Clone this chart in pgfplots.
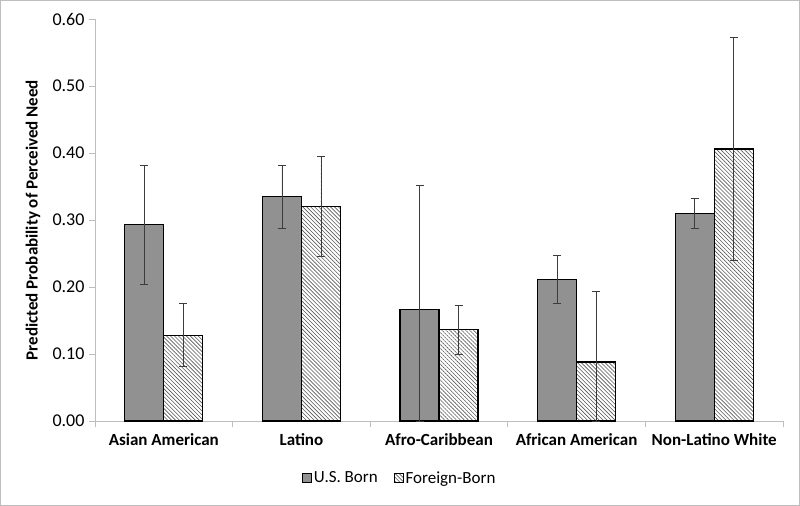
\documentclass[border=0pt]{standalone}
\usepackage{pgfplots}
\pgfplotsset{compat=1.18}
\usepackage{pgfplotstable}
\usepackage{fontspec}
\setmainfont{Carlito}
\usetikzlibrary{patterns.meta,calc}
\definecolor{barg}{RGB}{145,145,145}
\definecolor{axg}{RGB}{190,190,190}
\definecolor{errg}{RGB}{60,60,60}
\pgfplotstableread{
x y ep em
0 0.293 0.089 0.089
1 0.335 0.047 0.048
2 0.167 0.185 0.167
3 0.211 0.036 0.036
4 0.310 0.022 0.022
}\usborn
\pgfplotstableread{
x y ep em
0 0.128 0.047 0.047
1 0.320 0.075 0.075
2 0.136 0.037 0.037
3 0.088 0.105 0.088
4 0.406 0.166 0.166
}\foreign
\begin{document}
\begin{tikzpicture}
\begin{axis}[
  scale only axis, width=688bp, height=402bp,
  ybar=0pt, bar width=39bp,
  xmin=-0.5, xmax=4.5, ymin=0, ymax=0.6,
  ytick={0,0.1,...,0.6},
  xtick={0,1,2,3,4},
  xticklabels={Asian American, Latino, Afro-Caribbean, African American, Non-Latino White},
  minor xtick={-0.5,0.5,1.5,2.5,3.5,4.5},
  xtick style={draw=none},
  minor x tick style={draw=axg, line width=0.8pt},
  ytick style={draw=axg, line width=0.8pt},
  minor tick length=6bp, major tick length=6bp,
  tick align=outside,
  axis x line*=bottom, axis y line*=left,
  axis line style={draw=axg, line width=0.8pt, -},
  x tick label style={font=\fontsize{17bp}{19bp}\selectfont\bfseries, yshift=-3bp},
  y tick label style={font=\fontsize{18bp}{20bp}\selectfont, xshift=-1bp},
  /pgf/number format/fixed, /pgf/number format/fixed zerofill, /pgf/number format/precision=2, /pgf/number format/assume math mode=true,
  ylabel={Predicted Probability of Perceived Need},
  ylabel style={font=\fontsize{17bp}{19bp}\selectfont\bfseries, at={(rel axis cs:0,0.5)}, anchor=center, yshift=62bp},
  error bars/y dir=both, error bars/y explicit,
  error bars/error bar style={draw=errg, line width=0.7pt},
  error bars/error mark options={draw=errg, rotate=90, mark size=4bp, line width=0.7pt},
  legend style={at={(0.443,-0.142)}, anchor=center, legend columns=2, draw=none,
    font=\fontsize{17bp}{19bp}\selectfont, /tikz/every even column/.append style={column sep=14bp}},
  legend image code/.code={\draw[#1, line width=0.8pt] (0bp,-4.5bp) rectangle (9bp,4.5bp);},
  clip=false,
]
\addplot[draw=black, line width=1.2pt, fill=barg] table[x=x, y=y, y error plus=ep, y error minus=em]{\usborn};
\addlegendentry{U.S. Born}
\addplot[draw=black, line width=1.2pt, pattern={Lines[angle=-45, distance=2.8bp, line width=0.6bp]}, pattern color=black!65] table[x=x, y=y, y error plus=ep, y error minus=em]{\foreign};
\addlegendentry{Foreign-Born}
\end{axis}
\draw[axg, line width=1.5pt] ($(current axis.south west)+(-94.25bp,-84.25bp)$) rectangle ++(798.5bp,504.5bp);
\end{tikzpicture}
\end{document}
